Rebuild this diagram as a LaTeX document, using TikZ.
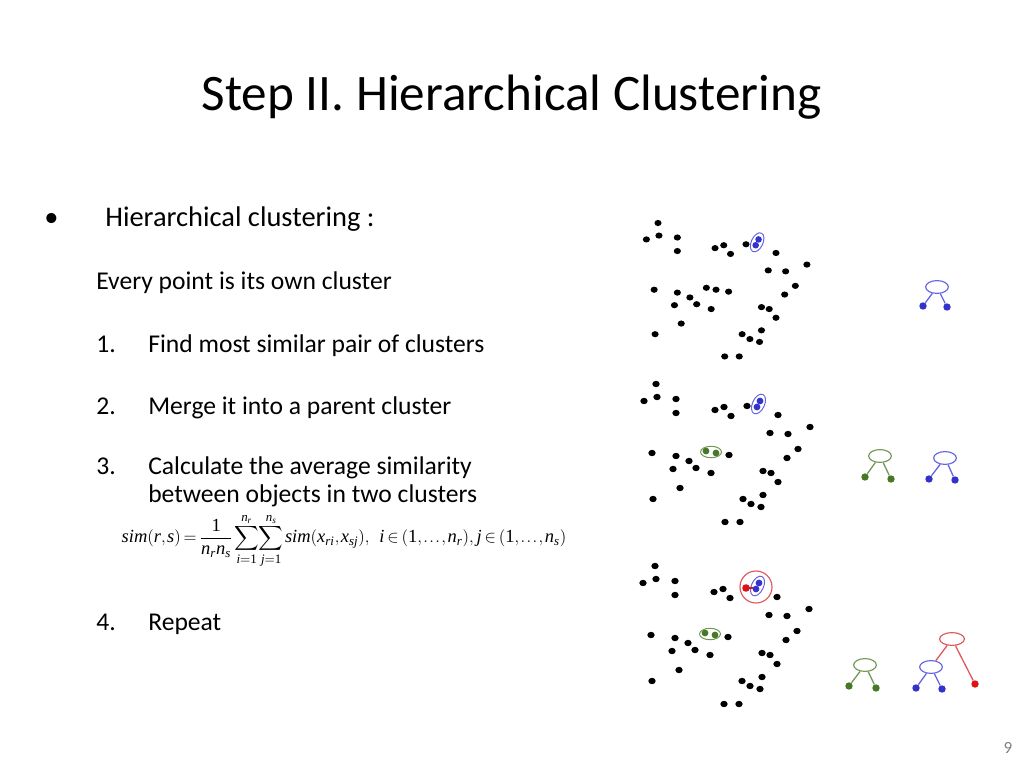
\documentclass[tikz,border=0pt]{standalone}
\usepackage{amsmath}
\usepackage{fontspec}
\setmainfont{Carlito}
\newfontfamily\timesfont{Liberation Serif}
\newcommand{\tv}[1]{\text{\timesfont\itshape #1}}
\newcommand{\tn}[1]{\text{\timesfont #1}}
\usetikzlibrary{shapes.geometric}
\definecolor{bluedot}{RGB}{51,51,204}
\definecolor{blueline}{RGB}{100,100,225}
\definecolor{greendot}{RGB}{70,120,40}
\definecolor{greenline}{RGB}{115,150,85}
\definecolor{reddot}{RGB}{220,20,20}
\definecolor{redline}{RGB}{225,85,90}
\tikzset{
  pt/.style    = {fill=black},
  clnode/.style = {ellipse, draw, line width=0.8pt, inner sep=0pt,
                   minimum width=16pt, minimum height=9pt},
  leaf/.style  = {circle, fill, inner sep=0pt, minimum size=5.2pt},
  edge/.style  = {line width=0.9pt},
  txt/.style   = {anchor=base west, inner sep=0pt},
}
\newcommand{\pointcloud}{%
  \foreach \px/\py in {0/0, -12/17, 1/13, 20/15, 20/29, 59/26, 68/23, 75/32,
      122/31, 154/43, 114/49, 132/50, 142/65, 131/74, -4/69, 20/72, 73/71,
      33/77, 17/85, 40/84, 55/89, 107/87, 115/89, 122/98, 24/104, -3/115,
      107/111, 87/115, 95/120, 105/123, 69/138, 84/138}
    \fill[pt] (\px,\py) ellipse [x radius=3.7, y radius=3.2];%
}
\begin{document}
\begin{tikzpicture}[x=0.703125pt, y=-0.703125pt]
  \useasboundingbox (0,0) rectangle (1024,768);
  % title and text
  \node[inner sep=0pt, anchor=base] (title) at (511.5,111) {\fontsize{36}{40}\selectfont Step II. Hierarchical Clustering};
  \node[txt] (bullet) at (44,227) {\fontsize{20}{24}\selectfont •};
  \node[txt] (head) at (105,227) {\fontsize{20}{24}\selectfont Hierarchical clustering :};
  \node[txt] (own) at (96,290) {\fontsize{18}{22}\selectfont Every point is its own cluster};
  \node[txt] (n1) at (96,352) {\fontsize{18}{22}\selectfont 1.};
  \node[txt] (s1) at (148,352) {\fontsize{18}{22}\selectfont Find most similar pair of clusters};
  \node[txt] (n2) at (96,414) {\fontsize{18}{22}\selectfont 2.};
  \node[txt] (s2) at (148,414) {\fontsize{18}{22}\selectfont Merge it into a parent cluster};
  \node[txt] (n3) at (96,474) {\fontsize{18}{22}\selectfont 3.};
  \node[txt] (s3) at (148,474) {\fontsize{18}{22}\selectfont Calculate the average similarity};
  \node[txt] (s3b) at (148,502) {\fontsize{18}{22}\selectfont between objects in two clusters};
  \node[inner sep=0pt] (formula) at (344,541) {\fontsize{13}{15}\selectfont
    \thickmuskip=3mu \thinmuskip=1.5mu
    $\displaystyle \tv{sim}(\tv{r},\tv{s})=\frac{\tn{1}}{\tv{n}_{\tv{r}}\tv{n}_{\tv{s}}}\sum_{\tv{i}=\tn{1}}^{\tv{n}_{\tv{r}}}\!\sum_{\tv{j}=\tn{1}}^{\tv{n}_{\tv{s}}} \tv{sim}(\tv{x}_{\tv{ri}},\tv{x}_{\tv{sj}}),\ \ \tv{i}\in(\tn{1},\ldots,\tv{n}_{\tv{r}}),\, \tv{j}\in(\tn{1},\ldots,\tv{n}_{\tv{s}})$};
  \node[txt] (n4) at (96,630) {\fontsize{18}{22}\selectfont 4.};
  \node[txt] (s4) at (148,630) {\fontsize{18}{22}\selectfont Repeat};
  \node[gray] (page) at (1008,748) {\fontsize{12}{14}\selectfont 9};

  % first panel
  \begin{scope}[shift={(658,223)}, scale=0.967]
    \pointcloud
    \fill[pt] (91,22) ellipse [x radius=3.7, y radius=3.2];
    \fill[pt] (50,67) ellipse [x radius=3.7, y radius=3.2];
    \fill[pt] (60,69) ellipse [x radius=3.7, y radius=3.2];
    \fill[bluedot] (104,17) circle [radius=3.4];
    \fill[bluedot] (101,23) circle [radius=3.4];
    \draw[blueline, line width=0.7pt] (102.5,20) ellipse [x radius=6, y radius=10.5, rotate=-25];
  \end{scope}
  % second panel
  \begin{scope}[shift={(656,384)}]
    \pointcloud
    \fill[pt] (91,22) ellipse [x radius=3.7, y radius=3.2];
    \fill[greendot] (50,67) circle [radius=3.4];
    \fill[greendot] (60,69) circle [radius=3.4];
    \draw[greenline, line width=0.7pt] (55,68) ellipse [x radius=10.5, y radius=5.7];
    \fill[bluedot] (104,17) circle [radius=3.4];
    \fill[bluedot] (101,23) circle [radius=3.4];
    \draw[blueline, line width=0.7pt] (102.5,20) ellipse [x radius=6, y radius=10.5, rotate=-25];
  \end{scope}
  % third panel
  \begin{scope}[shift={(655,566)}]
    \pointcloud
    \fill[greendot] (50,67) circle [radius=3.4];
    \fill[greendot] (60,69) circle [radius=3.4];
    \draw[greenline, line width=0.7pt] (55,68) ellipse [x radius=10.5, y radius=5.7];
    \fill[bluedot] (104,17) circle [radius=3.4];
    \fill[bluedot] (101,23) circle [radius=3.4];
    \draw[blueline, line width=0.7pt] (102.5,20) ellipse [x radius=6, y radius=10.5, rotate=-25];
    \draw[reddot, line width=1pt] (91,22) -- (98,22);
    \fill[reddot] (91,22) circle [radius=3.8];
    \draw[redline, line width=0.8pt] (101,21) circle [radius=16];
  \end{scope}

  % dendrograms
  \node[clnode, blueline] (blueA) at (937,287) {};
  \node[leaf, bluedot] (blueAl) at (923,306) {};
  \node[leaf, bluedot] (blueAr) at (947,307) {};
  \draw[edge, blueline] (blueA) -- (blueAl);
  \draw[edge, blueline] (blueA) -- (blueAr);

  \node[clnode, greenline] (greenB) at (880,456) {};
  \node[leaf, greendot] (greenBl) at (865,477) {};
  \node[leaf, greendot] (greenBr) at (891,479) {};
  \draw[edge, greenline] (greenB) -- (greenBl);
  \draw[edge, greenline] (greenB) -- (greenBr);
  \node[clnode, blueline] (blueB) at (945,458) {};
  \node[leaf, bluedot] (blueBl) at (929,479) {};
  \node[leaf, bluedot] (blueBr) at (955,480) {};
  \draw[edge, blueline] (blueB) -- (blueBl);
  \draw[edge, blueline] (blueB) -- (blueBr);

  \node[clnode, greenline] (greenC) at (865,665) {};
  \node[leaf, greendot] (greenCl) at (849,686) {};
  \node[leaf, greendot] (greenCr) at (876,688) {};
  \draw[edge, greenline] (greenC) -- (greenCl);
  \draw[edge, greenline] (greenC) -- (greenCr);
  \node[clnode, blueline] (blueC) at (931,667) {};
  \node[leaf, bluedot] (blueCl) at (916,688) {};
  \node[leaf, bluedot] (blueCr) at (942,689) {};
  \draw[edge, blueline] (blueC) -- (blueCl);
  \draw[edge, blueline] (blueC) -- (blueCr);
  \node[clnode, redline, minimum width=17.5pt] (redC) at (952,639) {};
  \node[leaf, reddot] (redCr) at (975,684) {};
  \draw[edge, redline] (redC) -- (blueC);
  \draw[edge, redline] (redC) -- (redCr);
\end{tikzpicture}
\end{document}
